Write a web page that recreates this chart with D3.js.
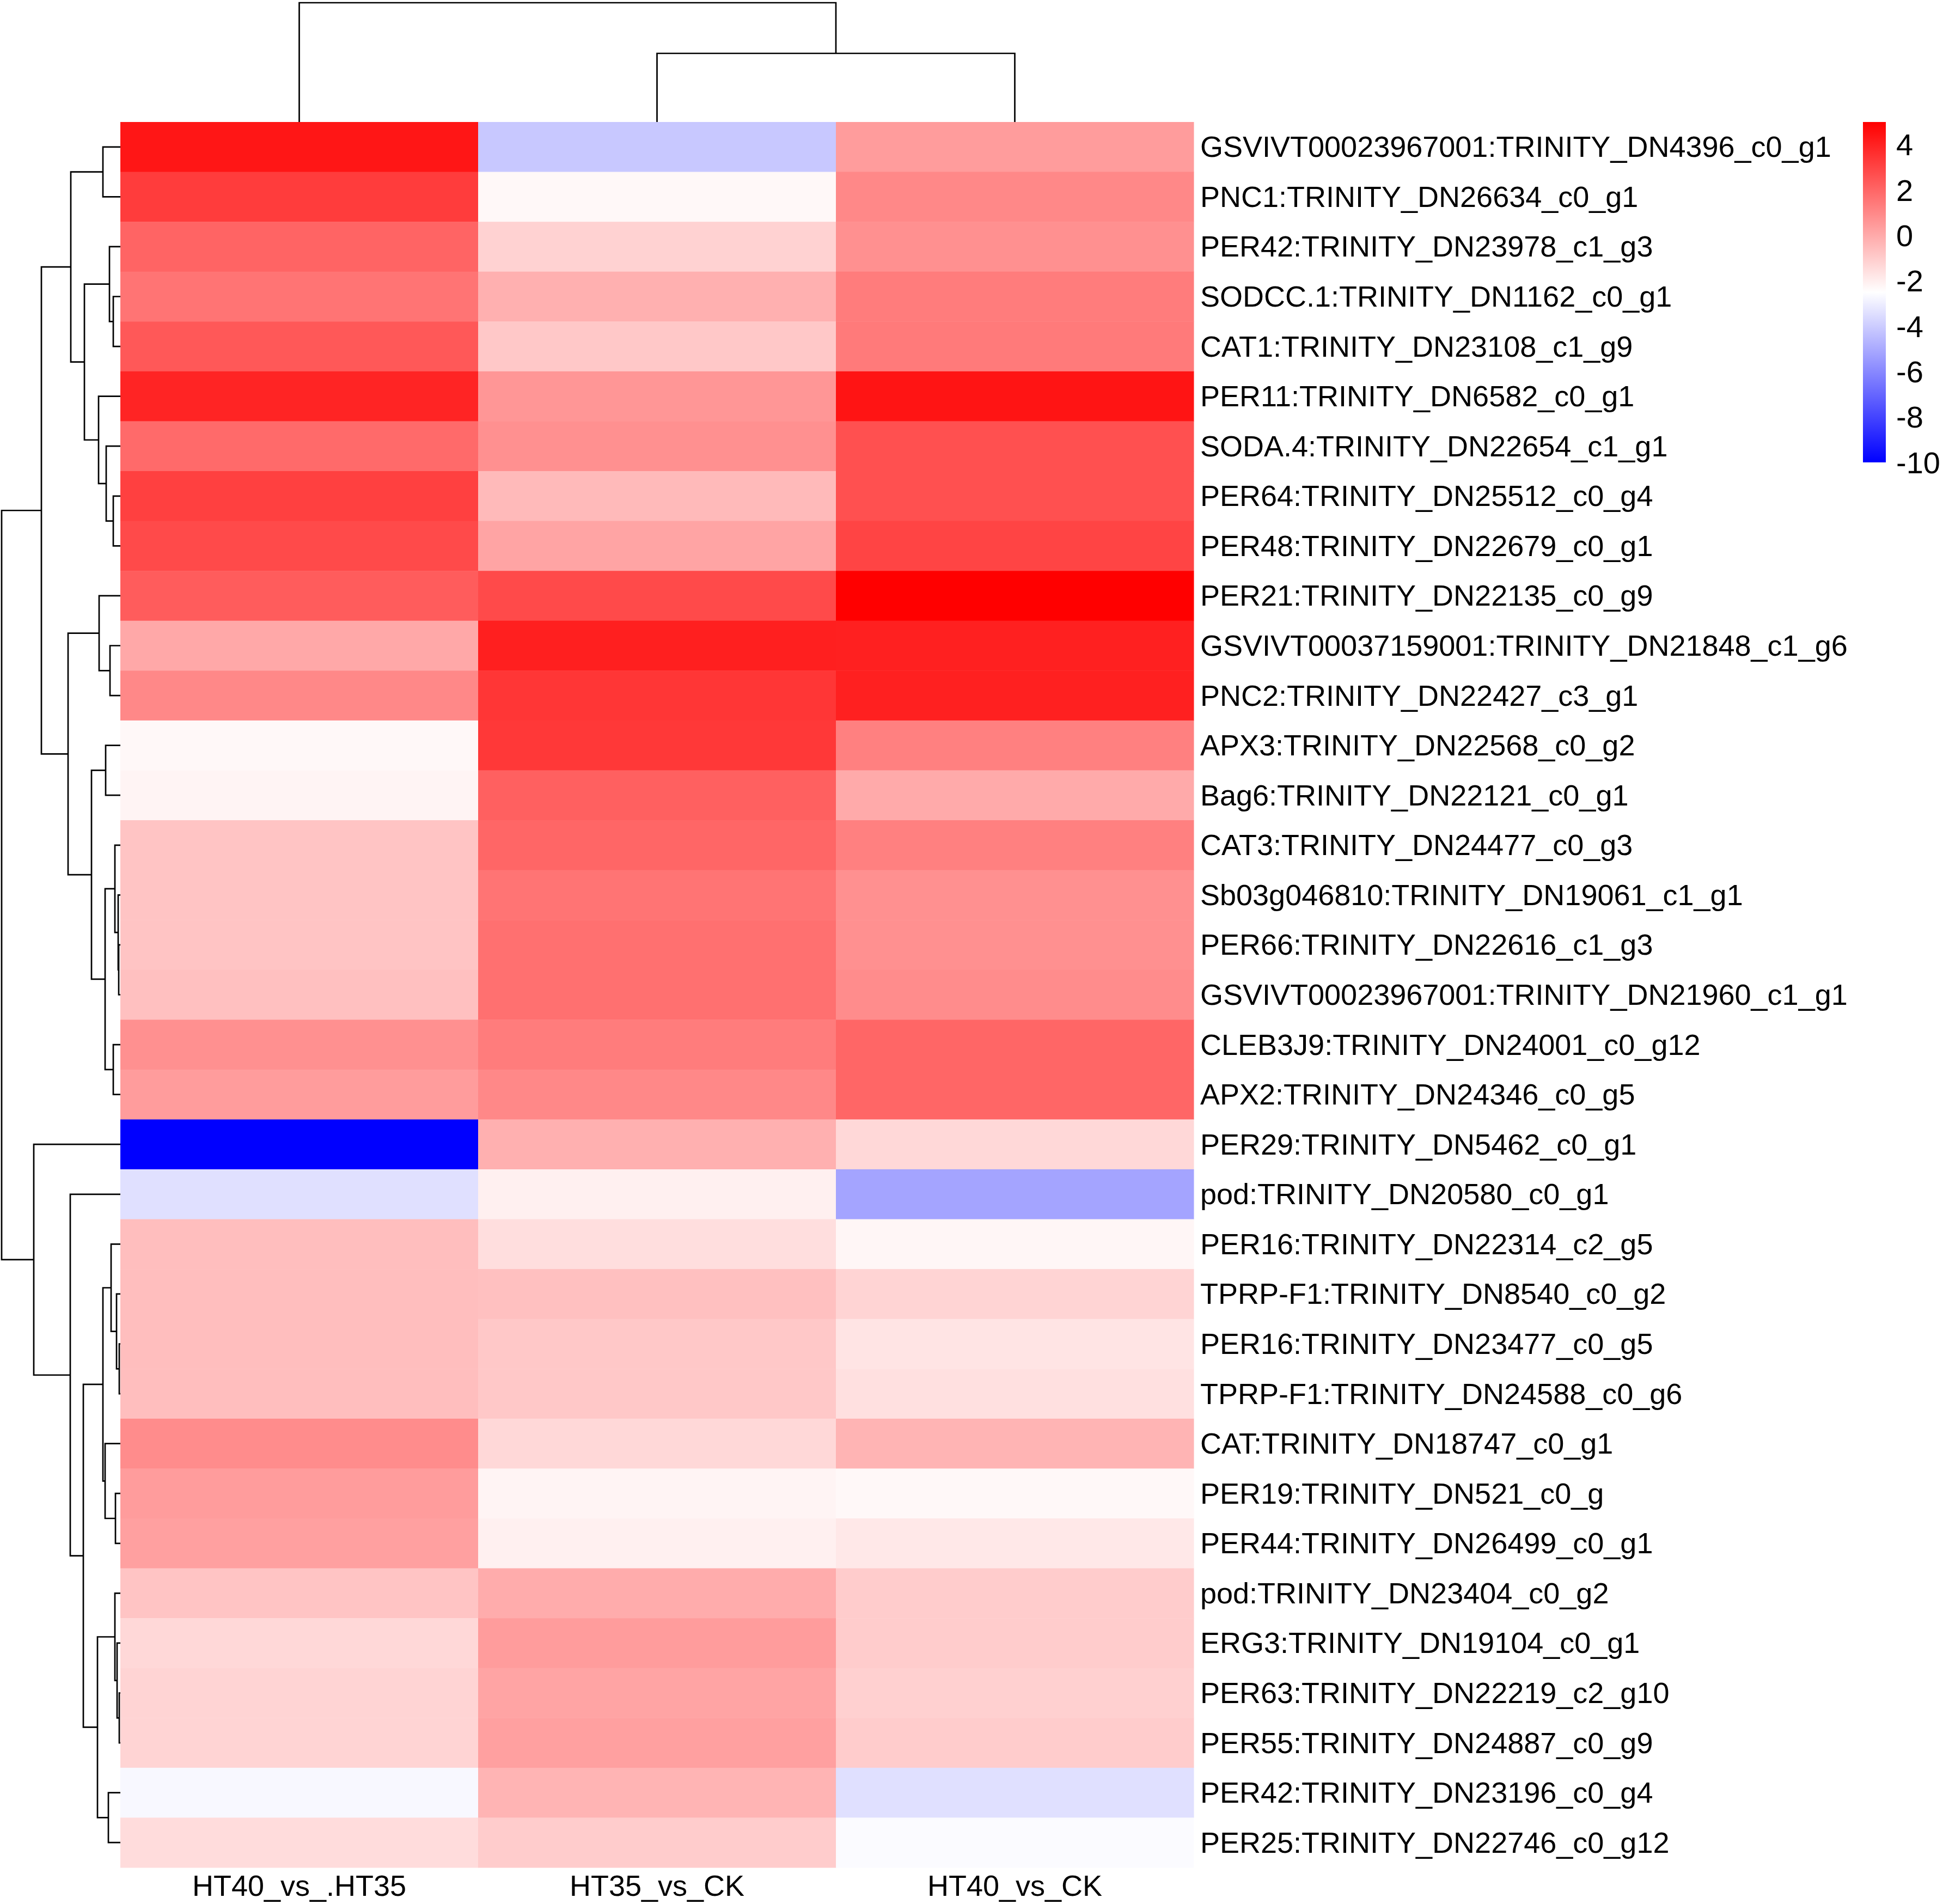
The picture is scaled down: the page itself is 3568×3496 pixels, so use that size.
<!DOCTYPE html>
<html><head><meta charset="utf-8">
<script src="https://cdn.jsdelivr.net/npm/d3@7"></script>
<style>html,body{margin:0;padding:0;background:#fff}svg{display:block}text{font-family:"Liberation Sans",Arial,sans-serif;fill:#000}</style>
</head><body><svg id="c" width="3568" height="3496"></svg>
<script>
const colLabels=["HT40_vs_.HT35","HT35_vs_CK","HT40_vs_CK"];
const rowLabels=["GSVIVT00023967001:TRINITY_DN4396_c0_g1","PNC1:TRINITY_DN26634_c0_g1","PER42:TRINITY_DN23978_c1_g3","SODCC.1:TRINITY_DN1162_c0_g1","CAT1:TRINITY_DN23108_c1_g9","PER11:TRINITY_DN6582_c0_g1","SODA.4:TRINITY_DN22654_c1_g1","PER64:TRINITY_DN25512_c0_g4","PER48:TRINITY_DN22679_c0_g1","PER21:TRINITY_DN22135_c0_g9","GSVIVT00037159001:TRINITY_DN21848_c1_g6","PNC2:TRINITY_DN22427_c3_g1","APX3:TRINITY_DN22568_c0_g2","Bag6:TRINITY_DN22121_c0_g1","CAT3:TRINITY_DN24477_c0_g3","Sb03g046810:TRINITY_DN19061_c1_g1","PER66:TRINITY_DN22616_c1_g3","GSVIVT00023967001:TRINITY_DN21960_c1_g1","CLEB3J9:TRINITY_DN24001_c0_g12","APX2:TRINITY_DN24346_c0_g5","PER29:TRINITY_DN5462_c0_g1","pod:TRINITY_DN20580_c0_g1","PER16:TRINITY_DN22314_c2_g5","TPRP-F1:TRINITY_DN8540_c0_g2","PER16:TRINITY_DN23477_c0_g5","TPRP-F1:TRINITY_DN24588_c0_g6","CAT:TRINITY_DN18747_c0_g1","PER19:TRINITY_DN521_c0_g","PER44:TRINITY_DN26499_c0_g1","pod:TRINITY_DN23404_c0_g2","ERG3:TRINITY_DN19104_c0_g1","PER63:TRINITY_DN22219_c2_g10","PER55:TRINITY_DN24887_c0_g9","PER42:TRINITY_DN23196_c0_g4","PER25:TRINITY_DN22746_c0_g12"];
const ht40VsHt35=[4.35,3.24,2.06,1.59,2.41,3.94,1.88,3.12,2.82,2.29,0.06,1,-2.29,-2.18,-0.76,-0.76,-0.76,-0.65,0.76,0.41,-10,-3.41,-0.59,-0.59,-0.59,-0.59,0.88,0.41,0.29,-0.76,-1.35,-1.24,-1.24,-2.71,-1.47];
const ht35VsCk=[-4.12,-2.29,-1.18,-0.18,-0.88,0.59,0.76,-0.47,0.18,2.82,4.1,3.4,3.35,2.18,2,1.59,1.71,1.71,1.35,1,-0.18,-2.06,-1.53,-0.65,-0.88,-0.88,-1.35,-2.18,-2.06,-0.06,0.41,0.18,0.29,-0.29,-1];
const ht40VsCk=[0.41,1,0.76,1.35,1.41,4.4,2.65,2.65,3,5,4.05,4.05,1.24,0,1.25,0.76,0.76,0.88,2.0,2.0,-1.35,-5.18,-2.24,-1.24,-1.71,-1.59,-0.29,-2.29,-1.82,-1,-1,-1.12,-1,-3.41,-2.62];
const legendTicks=[4,2,0,-2,-4,-6,-8,-10];
const legendDomain=[-10,-2.5,5];
const legendColors=["#0000ff","#ffffff","#ff0000"];
// dendrograms: [merge height, child, child]; numbers are leaf indices
const colTree=[10.95,0,[6.3,1,2]];
const rowTree=[10.9,
 [7.25,
  [4.55,
   [1.6,0,1],
   [3.3,
    [1,2,[0.65,3,4]],
    [2,5,[1.3,6,[0.65,7,8]]]]],
  [4.8,
   [1.95,9,[0.95,10,11]],
   [2.65,
    [1.35,12,13],
    [1.4,
     [0.5,14,[0.2,15,[0.15,16,17]]],
     [0.65,18,19]]]]],
 [7.95,20,
  [4.6,21,
   [3.4,
    [1.6,
     [0.85,22,[0.35,23,[0.1,24,25]]],
     [1.4,26,[0.45,27,28]]],
    [2.1,
     [0.5,29,[0.3,30,[0.1,31,32]]],
     [1.1,33,34]]]]]];

const gridL=221,gridR=2192,gridT=224,gridB=3429;
const svg=d3.select("#c");
const x=d3.scaleBand().domain(colLabels).range([gridL,gridR]);
const y=d3.scaleBand().domain(rowLabels).range([gridT,gridB]);
const color=d3.scaleLinear().domain(legendDomain).range(legendColors).clamp(true);
const series=[ht40VsHt35,ht35VsCk,ht40VsCk];
const cells=series.flatMap((s,c)=>s.map((v,r)=>({c:colLabels[c],r:rowLabels[r],v})));
svg.append("g").selectAll("rect").data(cells).join("rect")
 .attr("x",d=>x(d.c)).attr("y",d=>y(d.r)).attr("width",x.bandwidth()+.5).attr("height",y.bandwidth()+.5)
 .attr("fill",d=>color(d.v));

const LABEL=54;
const ra=svg.append("g").attr("transform",`translate(${gridR},-1)`).call(d3.axisRight(y).tickSize(0).tickPadding(12));
ra.select(".domain").remove();
ra.selectAll("text").attr("font-size",LABEL).attr("dy",".36em");
const ca=svg.append("g").attr("transform",`translate(0,${gridB})`).call(d3.axisBottom(x).tickSize(0).tickPadding(14));
ca.select(".domain").remove();
ca.selectAll("text").attr("font-size",LABEL).attr("dy",".71em");

function layout(t,pos){ // returns position and collects segments
 const segs=[];
 (function walk(n){
  if(typeof n==="number") return {p:pos(n),h:0};
  const a=walk(n[1]),b=walk(n[2]);
  segs.push({h:n[0],a,b});
  return {p:(a.p+b.p)/2,h:n[0]};
 })(t);
 return segs;
}
const dx=d3.scaleLinear().domain([0,rowTree[0]]).range([gridL,3]);
const dy=d3.scaleLinear().domain([0,colTree[0]]).range([gridT,5]);
const rowSegs=layout(rowTree,i=>y(rowLabels[i])+y.bandwidth()/2);
const colSegs=layout(colTree,i=>x(colLabels[i])+x.bandwidth()/2);
const line=d3.line();
const dg=svg.append("g").attr("fill","none").attr("stroke","#000").attr("stroke-width",2.7);
dg.selectAll("path.r").data(rowSegs).join("path").attr("class","r")
 .attr("d",s=>line([[dx(s.a.h),s.a.p],[dx(s.h),s.a.p],[dx(s.h),s.b.p],[dx(s.b.h),s.b.p]]));
dg.selectAll("path.c").data(colSegs).join("path").attr("class","c")
 .attr("d",s=>line([[s.a.p,dy(s.a.h)],[s.a.p,dy(s.h)],[s.b.p,dy(s.h)],[s.b.p,dy(s.b.h)]]));

const defs=svg.append("defs");
const lg=defs.append("linearGradient").attr("id","lg").attr("x1",0).attr("x2",0).attr("y1",1).attr("y2",0);
lg.selectAll("stop").data(legendDomain).join("stop")
 .attr("offset",d=>(d-legendDomain[0])/(legendDomain[2]-legendDomain[0]))
 .attr("stop-color",d=>color(d));
const ly=d3.scaleLinear().domain([-10,5]).range([849,224]);
svg.append("rect").attr("x",3421).attr("y",224).attr("width",42).attr("height",625).attr("fill","url(#lg)");
const la=svg.append("g").attr("transform","translate(3463,-1)").call(d3.axisRight(ly).tickValues(legendTicks).tickFormat(d=>String(d)).tickSize(0).tickPadding(19));
la.select(".domain").remove();
la.selectAll("text").attr("font-size",56).attr("dy",".36em");
</script></body></html>
